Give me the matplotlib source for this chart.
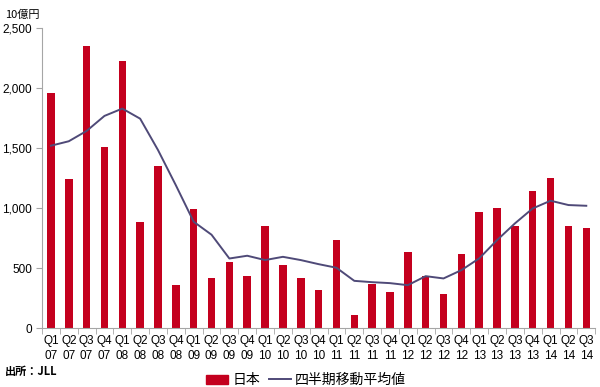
import numpy as np
import matplotlib.pyplot as plt
from matplotlib.lines import Line2D
from matplotlib.patches import Patch

plt.rcParams['font.family'] = ['Liberation Sans', 'Noto Sans CJK JP']

quarters = ['Q1', 'Q2', 'Q3', 'Q4']
years = ['07', '08', '09', '10', '11', '12', '13', '14']
labels = [f'{q}\n{y}' for y in years for q in quarters][:31]

# 日本 (10億円)
japan = [1956, 1239, 2350, 1506, 2228, 883, 1350, 356,
         994, 417, 553, 433, 853, 528, 419, 317,
         731, 111, 364, 297, 631, 436, 281, 617,
         969, 1003, 850, 1144, 1250, 847, 836]

# 四半期移動平均値
moving_avg = [1519, 1556, 1642, 1767, 1828, 1744, 1483, 1190,
              886, 778, 580, 603, 567, 594, 567, 533,
              503, 394, 383, 375, 358, 433, 414, 483,
              581, 733, 872, 997, 1061, 1025, 1019]

bar_color = '#C4001E'
line_color = '#4F4A78'
grey = '#A6A6A6'

fig = plt.figure(figsize=(6, 3.87), dpi=100)
ax = fig.add_axes([0.07, 0.152, 0.922, 0.776])

x = np.arange(len(japan))
ax.bar(x, japan, width=0.42, color=bar_color, zorder=2)
ax.plot(x, moving_avg, color=line_color, linewidth=1.4, zorder=3)

ax.set_xlim(-0.5, len(japan) - 0.5)
ax.set_ylim(0, 2500)
ax.set_yticks([0, 500, 1000, 1500, 2000, 2500])
ax.set_yticklabels(['0', '500', '1,000', '1,500', '2,000', '2,500'], fontsize=8.5)

ax.set_xticks(x)
ax.set_xticklabels(labels, fontsize=8.5, linespacing=1.3)
ax.set_xticks(np.arange(-0.5, len(japan)), minor=True)
ax.tick_params(axis='x', which='major', length=0, pad=5)
ax.tick_params(axis='x', which='minor', length=4, color=grey, direction='out')
ax.tick_params(axis='y', length=4, color=grey, direction='out', pad=3)

for side in ['top', 'right']:
    ax.spines[side].set_visible(False)
ax.spines['left'].set_color(grey)
ax.spines['bottom'].set_color(grey)

fig.text(0.008, 0.975, '10億円', fontsize=8, family=['Noto Sans CJK JP'], va='top')
fig.text(0.008, 0.04, '出所：JLL', fontsize=8, fontweight='bold',
         family=['Noto Sans CJK JP'], va='center')

handles = [Patch(color=bar_color, label='日本'),
           Line2D([0], [0], color=line_color, linewidth=1.4, label='四半期移動平均値')]
fig.legend(handles=handles, loc='center', bbox_to_anchor=(0.51, 0.018), ncol=2,
           frameon=False, prop={'family': 'Noto Sans CJK JP', 'size': 10},
           handlelength=1.6, handleheight=0.6, handletextpad=0.3, columnspacing=0.6,
           borderpad=0)

fig.savefig('out.png', dpi=100)
